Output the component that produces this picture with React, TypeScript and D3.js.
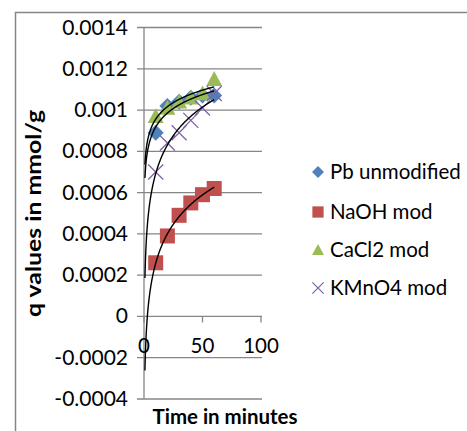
import React from "react";
import * as d3 from "d3";

const times = [10, 20, 30, 40, 50, 60];
const pbUnmodified = [0.00089, 0.00102, 0.00104, 0.00106, 0.00107, 0.00107];
const naohMod = [0.00026, 0.00039, 0.00049, 0.00055, 0.00059, 0.00062];
const cacl2Mod = [0.00097, 0.00101, 0.00104, 0.00106, 0.00108, 0.00115];
const kmno4Mod = [0.0007, 0.00084, 0.00089, 0.00095, 0.00101, 0.00108];
const seriesNames = ["Pb unmodified", "NaOH mod", "CaCl2 mod", "KMnO4 mod"];
const yTicks = [-0.0004, -0.0002, 0, 0.0002, 0.0004, 0.0006, 0.0008, 0.001, 0.0012, 0.0014];
const yTickLabels = ["-0.0004", "-0.0002", "0", "0.0002", "0.0004", "0.0006", "0.0008", "0.001", "0.0012", "0.0014"];
const xTicks = [0, 50, 100];
const trendStart = 0.8;

const FONT = "Lato, 'Open Sans', sans-serif";

function logFit(xs: number[], ys: number[]) {
  const lx = xs.map((v) => Math.log(v));
  const mx = d3.mean(lx)!;
  const my = d3.mean(ys)!;
  let num = 0, den = 0;
  lx.forEach((v, i) => {
    num += (v - mx) * (ys[i] - my);
    den += (v - mx) * (v - mx);
  });
  const a = num / den;
  const b = my - a * mx;
  return (x: number) => a * Math.log(x) + b;
}

export default function App() {
  const x = d3.scaleLinear().domain([0, 100]).range([144, 261]);
  const y = d3.scaleLinear().domain([-0.0004, 0.0014]).range([399, 27.5]);
  const allSeries = [pbUnmodified, naohMod, cacl2Mod, kmno4Mod];
  const colors = ["#4F81BD", "#C0504D", "#9BBB59", "#8064A2"];

  const line = d3
    .line<[number, number]>()
    .x((d) => x(d[0]))
    .y((d) => y(d[1]));

  const trendXs = d3.range(trendStart, 60.001, 0.2);

  const marker = (kind: number, cx: number, cy: number, key: string, small = false) => {
    const s = small ? 0.75 : 1;
    const c = colors[kind];
    if (kind === 0) {
      const r = 8 * s;
      return <path key={key} d={`M${cx},${cy - r}L${cx + r},${cy}L${cx},${cy + r}L${cx - r},${cy}Z`} fill={c} />;
    }
    if (kind === 1) {
      const h = 7.5 * s;
      return <rect key={key} x={cx - h} y={cy - h} width={2 * h} height={2 * h} fill={c} />;
    }
    if (kind === 2) {
      const h = 8 * s;
      return <path key={key} d={`M${cx},${cy - h}L${cx + h},${cy + h * 0.85}L${cx - h},${cy + h * 0.85}Z`} fill={c} />;
    }
    const h = 7.5 * s;
    return (
      <path
        key={key}
        d={`M${cx - h},${cy - h}L${cx + h},${cy + h}M${cx + h},${cy - h}L${cx - h},${cy + h}`}
        stroke={c}
        strokeWidth={1.3}
        fill="none"
      />
    );
  };

  const legendY = [172, 212, 250, 288];

  return (
    <svg
      width={467}
      height={431}
      style={{ position: "absolute", left: 0, top: 0, background: "#fff" }}
      fontFamily={FONT}
    >
      <rect x={15.5} y={12.5} width={470} height={440} fill="#fff" stroke="#868686" strokeWidth={1.5} />
      {/* gridlines */}
      {yTicks.map((t) => (
        <line key={t} x1={137} x2={262} y1={y(t)} y2={y(t)} stroke="#868686" strokeWidth={1.3} />
      ))}
      {/* y axis */}
      <line x1={x(0)} x2={x(0)} y1={y(0.0014)} y2={y(-0.0004)} stroke="#868686" strokeWidth={1.3} />
      {/* x axis ticks */}
      {xTicks.map((t) => (
        <line key={t} x1={x(t)} x2={x(t)} y1={y(0)} y2={y(0) + 6} stroke="#868686" strokeWidth={1.3} />
      ))}
      {xTicks.map((t) => (
        <text key={t} x={x(t)} y={352.5} textAnchor="middle" fontSize={20.5} fill="#000">
          {t}
        </text>
      ))}
      {yTicks.map((t, i) => (
        <text key={t} x={128} y={y(t) + 7} textAnchor="end" fontSize={21} fill="#000">
          {yTickLabels[i]}
        </text>
      ))}
      <text
        transform={`translate(41,213.5) rotate(-90)`}
        textAnchor="middle"
        fontSize={20}
        fontWeight="bold"
        fill="#000"
        textLength={207}
        lengthAdjust="spacingAndGlyphs"
      >
        q values in mmol/g
      </text>
      <text
        x={225}
        y={424}
        textAnchor="middle"
        fontSize={20}
        fontWeight="bold"
        fill="#000"
        textLength={145}
        lengthAdjust="spacingAndGlyphs"
      >
        Time in minutes
      </text>
      {/* markers */}
      {allSeries.map((vals, si) => (
        <g key={si}>{vals.map((v, i) => marker(si, x(times[i]), y(v), `${si}-${i}`))}</g>
      ))}
      {/* trendlines */}
      {allSeries.map((vals, si) => {
        const f = logFit(times, vals);
        const pts = trendXs.map((t) => [t, f(t)] as [number, number]);
        return <path key={si} d={line(pts)!} fill="none" stroke="#000" strokeWidth={1.4} />;
      })}
      {/* legend */}
      {seriesNames.map((n, i) => (
        <g key={n}>
          {marker(i, 318, legendY[i], `l${i}`, true)}
          <text x={330} y={legendY[i] + 7} fontSize={20.5} fill="#000">
            {n}
          </text>
        </g>
      ))}
    </svg>
  );
}
